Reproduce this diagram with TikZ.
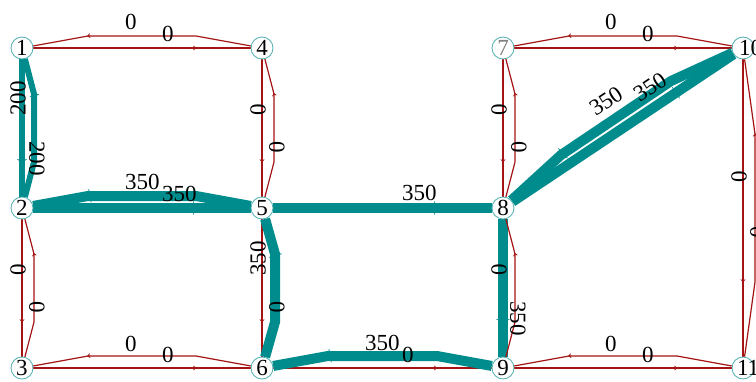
\documentclass[tikz,border=0pt]{standalone}
\usepackage{fontspec}
\setmainfont{Liberation Serif}
\usepackage{xcolor}
\usetikzlibrary{arrows.meta,decorations.markings}
\definecolor{arcred}{RGB}{165,20,20}
\definecolor{flowteal}{RGB}{0,140,140}
\definecolor{ringteal}{RGB}{80,175,175}
\pgfdeclarelayer{bg}
\pgfsetlayers{bg,main}

\begin{document}
\begin{tikzpicture}[x=1pt,y=-1pt,
  vtx/.style={circle,draw=ringteal,fill=white,line width=0.8pt,minimum size=22pt,inner sep=-3pt,font=\fontsize{23}{23}\selectfont},
  nil/.style={draw=arcred,line width=1.2pt,postaction={decorate,decoration={markings,mark=at position 0.75 with {\arrow{Stealth[length=3pt,width=5pt,line width=0.4pt]}}}}},
  bigflow/.style={draw=flowteal,line width=10pt,postaction={decorate,decoration={markings,mark=at position 0.75 with {\arrow{Triangle[length=3pt,width=14pt,line width=0.1pt]}}}}},
  midflow/.style={draw=flowteal,line width=6pt,postaction={decorate,decoration={markings,mark=at position 0.75 with {\arrow{Triangle[length=3pt,width=10pt,line width=0.1pt]}}}}},
  lab/.style={font=\fontsize{23}{23}\selectfont,inner sep=0pt}]
  \useasboundingbox (0,0) rectangle (756,381);
  \node[vtx] (v1) at (22,48) {1};
  \node[vtx] (v4) at (262,48) {4};
  \node[vtx,text=gray] (v7) at (503,48) {7};
  \node[vtx] (v10) at (743,48) {\rlap{\hspace{-4pt}10}};
  \node[vtx] (v2) at (22,208) {2};
  \node[vtx] (v5) at (262,208) {5};
  \node[vtx] (v8) at (503,208) {8};
  \node[vtx] (v3) at (22,368) {3};
  \node[vtx] (v6) at (262,368) {6};
  \node[vtx] (v9) at (503,368) {9};
  \node[vtx] (v11) at (743,368) {\rlap{\hspace{-6pt}11}};
  \begin{pgfonlayer}{bg}
  % top row
  \draw[nil] (v1) -- (v4);
  \draw[nil] (v4) -- (196,36) -- (88,36) -- (v1);
  \draw[nil] (v7) -- (v10);
  \draw[nil] (v10) -- (677,36) -- (569,36) -- (v7);
  % middle row
  \draw[bigflow] (v2) -- (v5);
  \draw[bigflow] (v5) -- (196,196) -- (88,196) -- (v2);
  \draw[bigflow] (v5) -- (v8);
  \draw[bigflow] (v8) -- (v10);
  \draw[bigflow] (v10) -- (671,81) -- (561,155) -- (v8);
  % bottom row
  \draw[nil] (v3) -- (v6);
  \draw[nil] (v6) -- (196,356) -- (88,356) -- (v3);
  \draw[nil] (v6) -- (v9);
  \draw[bigflow] (v9) -- (437,356) -- (328,356) -- (v6);
  \draw[nil] (v9) -- (v11);
  \draw[nil] (v11) -- (677,356) -- (569,356) -- (v9);
  % columns
  \draw[midflow] (v1) -- (v2);
  \draw[midflow] (v2) -- (34,162) -- (34,94) -- (v1);
  \draw[nil] (v4) -- (v5);
  \draw[nil] (v5) -- (274,162) -- (274,94) -- (v4);
  \draw[nil] (v7) -- (v8);
  \draw[nil] (v8) -- (515,162) -- (515,94) -- (v7);
  \draw[nil] (v2) -- (v3);
  \draw[nil] (v3) -- (34,322) -- (34,254) -- (v2);
  \draw[nil] (v5) -- (v6);
  \draw[bigflow] (v6) -- (275,322) -- (275,254) -- (v5);
  \draw[bigflow] (v8) -- (v9);
  \draw[nil] (v9) -- (515,322) -- (515,254) -- (v8);
  \draw[nil] (v10) -- (v11);
  \draw[nil] (v11) -- (755,282) -- (755,134) -- (v10);
  \end{pgfonlayer}
  % flow labels, rows
  \node[lab,anchor=west] (l14a) at (125,22) {0};
  \node[lab,anchor=west] (l14b) at (162,34) {0};
  \node[lab,anchor=west] (l710a) at (605,22) {0};
  \node[lab,anchor=west] (l710b) at (642,34) {0};
  \node[lab,anchor=west] (l25a) at (125,182) {350};
  \node[lab,anchor=west] (l25b) at (162,194) {350};
  \node[lab,anchor=west] (l58b) at (402,193) {350};
  \node[lab,rotate=33.7] (l810a) at (606,101) {350};
  \node[lab,rotate=33.7] (l810b) at (650,87) {350};
  \node[lab,anchor=west] (l36a) at (125,344) {0};
  \node[lab,anchor=west] (l36b) at (162,355) {0};
  \node[lab,anchor=west] (l69a) at (365,343) {350};
  \node[lab,anchor=west] (l69b) at (402,355) {0};
  \node[lab,anchor=west] (l911a) at (605,344) {0};
  \node[lab,anchor=west] (l911b) at (642,355) {0};
  % flow labels, columns
  \node[lab,rotate=90,anchor=west] (l12a) at (18,116) {200};
  \node[lab,rotate=-90,anchor=west] (l12b) at (37,141) {200};
  \node[lab,rotate=90,anchor=west] (l45a) at (258,116) {0};
  \node[lab,rotate=-90,anchor=west] (l45b) at (277,141) {0};
  \node[lab,rotate=90,anchor=west] (l78a) at (499,116) {0};
  \node[lab,rotate=-90,anchor=west] (l78b) at (519,141) {0};
  \node[lab,rotate=90,anchor=west] (l23a) at (18,276) {0};
  \node[lab,rotate=-90,anchor=west] (l23b) at (37,301) {0};
  \node[lab,rotate=90,anchor=west] (l56a) at (258,276) {350};
  \node[lab,rotate=-90,anchor=west] (l56b) at (277,301) {0};
  \node[lab,rotate=90,anchor=west] (l89a) at (499,276) {0};
  \node[lab,rotate=-90,anchor=west] (l89b) at (518,301) {350};
  \node[lab,rotate=90,anchor=west] (l1011a) at (739,183) {0};
  \node[lab,rotate=-90,anchor=west] (l1011b) at (758,226) {0};
\end{tikzpicture}
\end{document}
